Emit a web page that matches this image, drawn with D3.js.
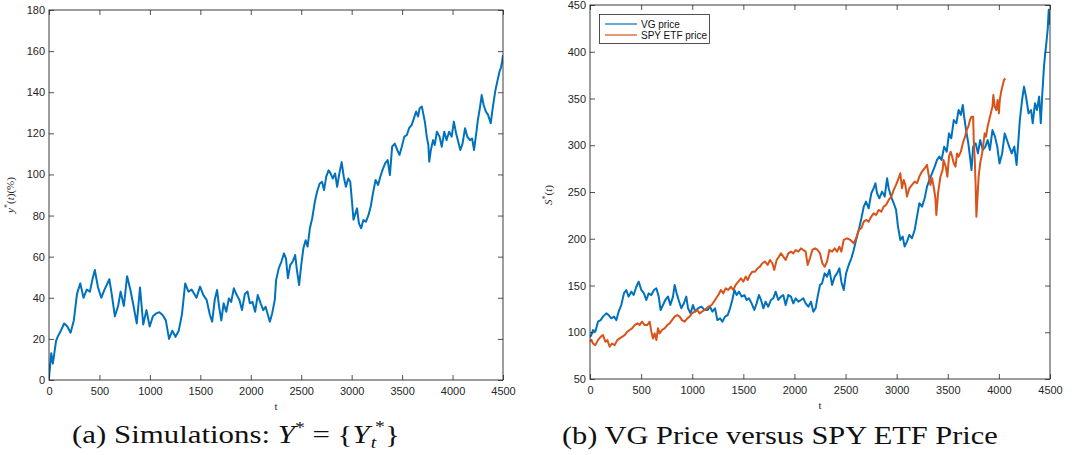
<!DOCTYPE html>
<html>
<head>
<meta charset="utf-8">
<script src="https://cdn.jsdelivr.net/npm/d3@7"></script>
<style>
  body { margin: 0; background: #fff; }
  .tick text { font-family: "Liberation Sans", Arial, sans-serif; font-size: 11px; fill: #262626; }
  .tick line { stroke: #262626; stroke-width: 0.8; }
  .frame { fill: none; stroke: #262626; stroke-width: 0.9; }
  .caption { font-family: "Liberation Serif", "DejaVu Serif", serif; font-size: 25px; fill: #111; }
  .axlabel { font-family: "Liberation Serif", serif; font-size: 11px; fill: #262626; }
  .legend text { font-family: "Liberation Sans", Arial, sans-serif; font-size: 10px; fill: #111; }
</style>
</head>
<body>
<svg id="chart" width="1077" height="455"></svg>
<script>
// (a) simulated path Y*(t), in %
const simT = [0, 22, 38, 70, 86, 118, 150, 182, 214, 246, 278, 310, 342, 374, 406, 429, 454, 486, 518, 550,
  598, 621, 653, 685, 710, 742, 774, 806, 838, 870, 902, 934, 966, 998, 1030, 1062, 1094, 1126, 1158, 1190,
  1222, 1254, 1286, 1318, 1350, 1382, 1414, 1462, 1497, 1530, 1562, 1595, 1617, 1643, 1666, 1686, 1708, 1731,
  1757, 1783, 1806, 1832, 1861, 1887, 1913, 1942, 1968, 1991, 2017, 2043, 2069, 2098, 2124, 2147, 2170, 2189,
  2212, 2238, 2251, 2277, 2303, 2329, 2349, 2368, 2391, 2414, 2440, 2459, 2479, 2498, 2521, 2544, 2563, 2586,
  2609, 2635, 2657, 2683, 2706, 2726, 2748, 2771, 2791, 2813, 2836, 2856, 2878, 2901, 2921, 2943, 2966, 2986,
  3002, 3018, 3053, 3072, 3094, 3116, 3142, 3167, 3189, 3211, 3237, 3262, 3284, 3306, 3332, 3357, 3379, 3401,
  3427, 3452, 3474, 3497, 3522, 3547, 3569, 3595, 3617, 3639, 3658, 3674, 3696, 3712, 3728, 3744, 3760, 3769,
  3785, 3807, 3823, 3845, 3871, 3893, 3918, 3940, 3966, 3991, 4013, 4035, 4061, 4077, 4099, 4124, 4146, 4172,
  4194, 4213, 4235, 4251, 4273, 4289, 4308, 4330, 4352, 4378, 4400, 4425, 4447, 4465, 4480, 4492, 4500];
const simY = [1, 13, 8, 19, 21, 24, 27.5, 26, 23, 29, 42, 47, 40, 44, 43, 48.6, 53.5, 45, 40, 44,
  49, 42, 31, 36, 43, 36, 50.5, 44, 36, 27.5, 45, 27, 34, 26, 31, 32.4, 33, 31.6, 29, 20,
  24, 21, 24, 32, 47, 43, 44, 40, 45.4, 41.3, 39, 31.6, 28.4, 39, 43.8, 35.6, 29, 37.3,
  33.2, 39.7, 38, 44.6, 41.3, 39, 34, 42, 43, 37.3, 38, 33.2, 41.3, 37.3, 34, 35.6, 31.6, 28.4,
  32.4, 39, 48.6, 54.3, 57.5, 61.6, 59, 49.5, 56, 57.5, 60.8, 52.9, 46.2, 55, 64, 68, 64.9, 73.8,
  78.7, 86.7, 91.6, 95.6, 96.4, 92.4, 98.9, 102, 100.5, 98, 100.5, 94, 100.5, 106, 99, 94, 98, 96.4,
  87.5, 78, 83.5, 76.2, 73.8, 77.8, 77, 80.3, 84.4, 90.8, 97.3, 94.9, 98.9, 102.2, 105.4, 107, 99.7, 113.5,
  115, 111.9, 109.5, 113.5, 118.4, 119.2, 122.5, 124.1, 127.3, 130.6, 128.2, 132.2, 133, 129, 124.9, 118.4, 114.3, 106.2,
  111.9, 116.7, 114.3, 120.8, 118.4, 113.5, 120.8, 116.7, 120.8, 118.4, 125.7, 120, 115, 111.9, 115, 122.5, 118.4, 116.7,
  117.5, 111.9, 120, 126.5, 133, 138.6, 133.8, 130.6, 129, 124.9, 133, 141, 146, 150, 152, 155, 158];

// (b) VG price path
const vgT = [0, 13, 29, 52, 78, 104, 127, 160, 182, 209, 235, 258, 280, 306, 332, 355, 378, 404, 427, 453,
  476, 502, 528, 551, 574, 600, 626, 649, 672, 691, 714, 737, 763, 786, 812, 828, 848, 867, 893, 919,
  942, 959, 984, 1007, 1030, 1056, 1089, 1121, 1151, 1174, 1197, 1223, 1246, 1272, 1295, 1321, 1347, 1370, 1392, 1412,
  1435, 1458, 1484, 1510, 1533, 1555, 1581, 1607, 1630, 1653, 1673, 1696, 1718, 1744, 1770, 1793, 1816, 1842, 1868, 1891,
  1914, 1940, 1966, 1989, 2012, 2038, 2064, 2087, 2110, 2136, 2162, 2185, 2207, 2227, 2250, 2270, 2296, 2319, 2342, 2368,
  2394, 2417, 2440, 2459, 2482, 2505, 2531, 2557, 2580, 2603, 2629, 2655, 2678, 2700, 2726, 2752, 2775, 2792, 2808, 2831,
  2857, 2883, 2906, 2922, 2945, 2971, 2994, 3013, 3036, 3059, 3078, 3101, 3124, 3150, 3176, 3199, 3222, 3248, 3274, 3297,
  3320, 3346, 3372, 3395, 3418, 3439, 3465, 3490, 3512, 3534, 3559, 3584, 3606, 3628, 3647, 3660, 3679, 3701, 3717, 3732,
  3748, 3773, 3795, 3817, 3843, 3868, 3890, 3912, 3937, 3962, 3984, 4006, 4032, 4057, 4079, 4101, 4126, 4151, 4173, 4189,
  4205, 4227, 4246, 4268, 4290, 4315, 4331, 4353, 4372, 4394, 4410, 4425, 4441, 4450, 4465, 4478, 4488, 4495, 4500];
const vgY = [95, 97, 102.4, 100.6, 111.3, 113, 116.7, 120.2, 118.4, 114.9, 116.7, 113, 122, 129.1, 141.6, 145.2, 138.1, 143.4, 139.8, 148.7,
  154.1, 145.2, 141.6, 134.5, 141.6, 139.8, 145.2, 147, 138.1, 123.8, 129.1, 134.5, 138.1, 129.1, 138.1, 150.6, 141.6, 134.5, 125.6, 131,
  138.1, 125.6, 120.2, 129.1, 122, 125.6, 127.4, 123.8, 123.8, 127.3, 122, 125.6, 113, 114.9, 111.3, 116.7, 118.4, 125.6, 134.5, 145.2,
  139.8, 143.4, 138.1, 139.8, 134.5, 136.3, 130.9, 123.8, 130.9, 139.8, 134.5, 125.6, 132.7, 127.3, 134.5, 136.3, 143.4, 134.5, 138.1, 139.8,
  129.1, 139.8, 138.1, 130.9, 136.3, 132.7, 134.5, 136.3, 130.9, 127.3, 132.7, 122, 125.6, 138.1, 150.6, 152.3, 163, 159.5, 166.7, 150.6,
  159.5, 163, 168.4, 154.1, 145.2, 163, 172, 179.1, 188, 198.7, 209.4, 221.9, 234.4, 239.7, 232.6, 248.7, 254, 259.4, 248.7, 243.3,
  250.4, 245.1, 264.7, 254, 245.1, 238, 230.8, 213, 198.7, 202.3, 191.6, 197, 204.1, 200.5, 209.4, 223.7, 238, 234.4, 243.3, 255.8,
  262.9, 270, 277.2, 284.3, 287.9, 284.2, 298.5, 293.1, 312.7, 307.4, 327, 323.5, 337.7, 332.4, 343.1, 330.6, 316.3, 302, 287.8, 273.5,
  298.5, 302, 291.3, 305.6, 295, 298.5, 305.6, 295, 316.3, 309.2, 298.5, 280.6, 291.3, 312.7, 305.6, 298.5, 291.3, 298.5, 278.9, 302,
  327, 348.4, 362.7, 350.2, 334.2, 337.7, 323.5, 344.9, 337.7, 352, 323.5, 355.6, 384.1, 394.8, 410, 425, 445, 430, 438];

// (b) SPY ETF price
const spyT = [0, 13, 29, 52, 78, 104, 127, 150, 170, 192, 215, 241, 267, 290, 313, 339, 365, 388, 411, 437,
  463, 486, 509, 535, 561, 584, 600, 616, 632, 649, 665, 681, 704, 730, 756, 779, 802, 828, 854, 877,
  900, 926, 952, 975, 998, 1024, 1050, 1072, 1095, 1121, 1158, 1190, 1223, 1255, 1281, 1304, 1327, 1353, 1379, 1402,
  1425, 1451, 1477, 1500, 1523, 1542, 1565, 1588, 1614, 1640, 1663, 1686, 1712, 1738, 1761, 1784, 1803, 1826, 1849, 1868,
  1891, 1914, 1940, 1966, 1989, 2012, 2038, 2064, 2087, 2110, 2129, 2152, 2175, 2201, 2227, 2250, 2273, 2296, 2319, 2342,
  2368, 2394, 2417, 2440, 2459, 2482, 2515, 2547, 2580, 2603, 2629, 2655, 2678, 2700, 2726, 2752, 2775, 2798, 2824, 2850,
  2873, 2896, 2922, 2948, 2971, 2994, 3013, 3036, 3052, 3069, 3085, 3101, 3124, 3150, 3176, 3199, 3222, 3248, 3274, 3297,
  3313, 3330, 3346, 3362, 3379, 3388, 3405, 3428, 3450, 3458, 3480, 3496, 3512, 3528, 3543, 3559, 3575, 3591, 3606, 3628,
  3647, 3669, 3685, 3701, 3717, 3732, 3748, 3754, 3764, 3773, 3780, 3789, 3802, 3817, 3836, 3849, 3861, 3874, 3890, 3905,
  3921, 3937, 3946, 3959, 3975, 3987, 4000, 4009, 4022, 4038, 4050, 4063];
const spyY = [90, 92, 88, 86.2, 91.6, 95.1, 97, 89.8, 91.6, 84.5, 88, 86.2, 91.6, 93.4, 95.1, 97, 100.6, 102.4, 104.2, 107.7,
  109.5, 107.7, 111.3, 107.7, 107.7, 111.3, 100.6, 93.4, 98.8, 91.6, 104.2, 98.8, 102.4, 104.2, 107.7, 109.5, 113, 116.7, 118.4, 116.7,
  113, 111.3, 114.9, 116.7, 120.2, 122, 123.8, 120.2, 122, 123.8, 127.3, 129.1, 134.5, 139.8, 145.2, 141.6, 147, 145.2, 148.7, 145.2,
  150.6, 154.1, 157.7, 154.1, 159.5, 155.9, 161.3, 164.8, 164.8, 168.4, 170.2, 173.8, 175.6, 172, 177.3, 173.8, 166.7, 177.3, 180.9, 184.4,
  180.9, 177.3, 184.4, 186.2, 184.4, 188, 186.2, 189.7, 188, 186.2, 172, 179.1, 188, 189.7, 188, 184.4, 173.8, 170.1, 175.5, 188,
  186.2, 189.7, 186.2, 191.5, 186.2, 198.7, 200.5, 198.7, 195.1, 200.5, 209.4, 211.2, 218.3, 220.1, 218.3, 223.7, 227.2, 225.5, 230.8, 229,
  234.4, 236.2, 241.5, 245.1, 252.2, 257.6, 262.9, 270, 254, 262.9, 257.6, 245.1, 254, 257.6, 261.2, 259.4, 266.5, 271.9, 275.4, 279,
  268.3, 257.6, 264.7, 255.8, 243.3, 225.5, 248.7, 266.5, 273.6, 284.2, 277.1, 266.4, 287.8, 293.1, 287.8, 280.6, 277.1, 291.3, 287.8, 293.1,
  302, 309.2, 316.3, 319.9, 327, 330.6, 330.6, 305.6, 284.2, 255.7, 223.6, 241.4, 266.4, 280.6, 291.3, 302, 312.7, 309.2, 319.9, 327,
  334.2, 341.3, 353.8, 341.3, 337.7, 348.4, 334.2, 348.4, 357.3, 364.4, 369.8, 371.6];

const xTicks = d3.range(0, 4501, 500);
const simTicks = d3.range(0, 181, 20);
const priceTicks = d3.range(50, 451, 50);

const BLUE = "#0072BD", ORANGE = "#D95319";
const svg = d3.select("#chart");
const fmt = d3.format("d");

function drawPanel(box, yDomain, yTicks, series) {
  const x = d3.scaleLinear().domain([0, 4500]).range([box.left, box.right]);
  const y = d3.scaleLinear().domain(yDomain).range([box.bottom, box.top]);
  const g = svg.append("g");

  const clipId = "clip" + box.left;
  g.append("clipPath").attr("id", clipId).append("rect")
    .attr("x", box.left).attr("y", box.top)
    .attr("width", box.right - box.left).attr("height", box.bottom - box.top);

  const line = d3.line().x(d => x(d[0])).y(d => y(d[1]));
  series.forEach(s => {
    g.append("path")
      .datum(s.t.map((t, i) => [t, s.v[i]]))
      .attr("clip-path", `url(#${clipId})`)
      .attr("fill", "none")
      .attr("stroke", s.color)
      .attr("stroke-width", 2)
      .attr("stroke-linejoin", "round")
      .attr("d", line);
  });

  // axes with inward ticks on all four sides
  g.append("g").attr("transform", `translate(0,${box.bottom})`)
    .call(d3.axisBottom(x).tickValues(xTicks).tickFormat(fmt).tickSize(-5).tickPadding(7))
    .call(a => a.select(".domain").remove());
  g.append("g").attr("transform", `translate(0,${box.top})`)
    .call(d3.axisTop(x).tickValues(xTicks).tickSize(-5).tickFormat(""))
    .call(a => a.select(".domain").remove());
  g.append("g").attr("transform", `translate(${box.left},0)`)
    .call(d3.axisLeft(y).tickValues(yTicks).tickFormat(fmt).tickSize(-5).tickPadding(4))
    .call(a => a.select(".domain").remove());
  g.append("g").attr("transform", `translate(${box.right},0)`)
    .call(d3.axisRight(y).tickValues(yTicks).tickSize(-5).tickFormat(""))
    .call(a => a.select(".domain").remove());

  g.append("rect").attr("class", "frame")
    .attr("x", box.left).attr("y", box.top)
    .attr("width", box.right - box.left).attr("height", box.bottom - box.top);

  g.append("text").attr("class", "axlabel")
    .attr("x", (box.left + box.right) / 2).attr("y", box.bottom + 30)
    .attr("text-anchor", "middle").text("t");
  return g;
}

// stretch a caption horizontally so it spans the same width as the original
function fitWidth(sel, x0, width) {
  const w = sel.node().getBBox().width;
  sel.attr("transform", `translate(${x0},0) scale(${width / w},1) translate(${-x0},0)`);
}

// panel (a)
const ga = drawPanel({left: 49, right: 503, top: 10, bottom: 380}, [0, 180], simTicks,
  [{t: simT, v: simY, color: BLUE}]);
const yla = ga.append("text").attr("class", "axlabel")
  .attr("transform", "translate(14,195) rotate(-90)").attr("text-anchor", "middle");
yla.append("tspan").attr("font-style", "italic").text("y");
yla.append("tspan").attr("dy", -4).attr("font-size", 8).text("*");
yla.append("tspan").attr("dy", 4).text("(");
yla.append("tspan").attr("font-style", "italic").text("t");
yla.append("tspan").text(")(%)");

// panel (b)
const gb = drawPanel({left: 590, right: 1050, top: 5, bottom: 379}, [50, 450], priceTicks,
  [{t: vgT, v: vgY, color: BLUE}, {t: spyT, v: spyY, color: ORANGE}]);
const ylb = gb.append("text").attr("class", "axlabel")
  .attr("transform", "translate(552,195) rotate(-90)").attr("text-anchor", "middle");
ylb.append("tspan").attr("font-style", "italic").text("S");
ylb.append("tspan").attr("dy", -4).attr("font-size", 8).text("*");
ylb.append("tspan").attr("dy", 4).text("(");
ylb.append("tspan").attr("font-style", "italic").text("t");
ylb.append("tspan").text(")");

// legend
const legendItems = [{name: "VG price", color: BLUE}, {name: "SPY ETF price", color: ORANGE}];
const lg = gb.append("g").attr("class", "legend");
lg.append("rect").attr("x", 599.5).attr("y", 14.5).attr("width", 110).attr("height", 29)
  .attr("fill", "#fff").attr("stroke", "#262626").attr("stroke-width", 0.8);
legendItems.forEach((d, i) => {
  const cy = 24 + i * 11;
  lg.append("line").attr("x1", 605).attr("x2", 637).attr("y1", cy).attr("y2", cy)
    .attr("stroke", d.color).attr("stroke-width", 1.2);
  lg.append("text").attr("x", 641).attr("y", cy + 3.5).text(d.name);
});

// captions
const capA = svg.append("text").attr("class", "caption").attr("x", 72).attr("y", 443);
capA.append("tspan").text("(a) Simulations:  ");
capA.append("tspan").attr("font-style", "italic").text("Y");
capA.append("tspan").attr("dy", -10).attr("font-size", 16).text("*");
capA.append("tspan").attr("dy", 10).text(" = {");
capA.append("tspan").attr("font-style", "italic").text("Y");
capA.append("tspan").attr("dx", 1).attr("dy", 5).attr("font-size", 16).attr("font-style", "italic").text("t");
capA.append("tspan").attr("dx", -1).attr("dy", -16).attr("font-size", 16).text("*");
capA.append("tspan").attr("dy", 11).text("}");
fitWidth(capA, 72, 328);

const capB = svg.append("text").attr("class", "caption").attr("x", 562).attr("y", 444)
  .text("(b) VG Price versus SPY ETF Price");
fitWidth(capB, 562, 436);
</script>
</body>
</html>
